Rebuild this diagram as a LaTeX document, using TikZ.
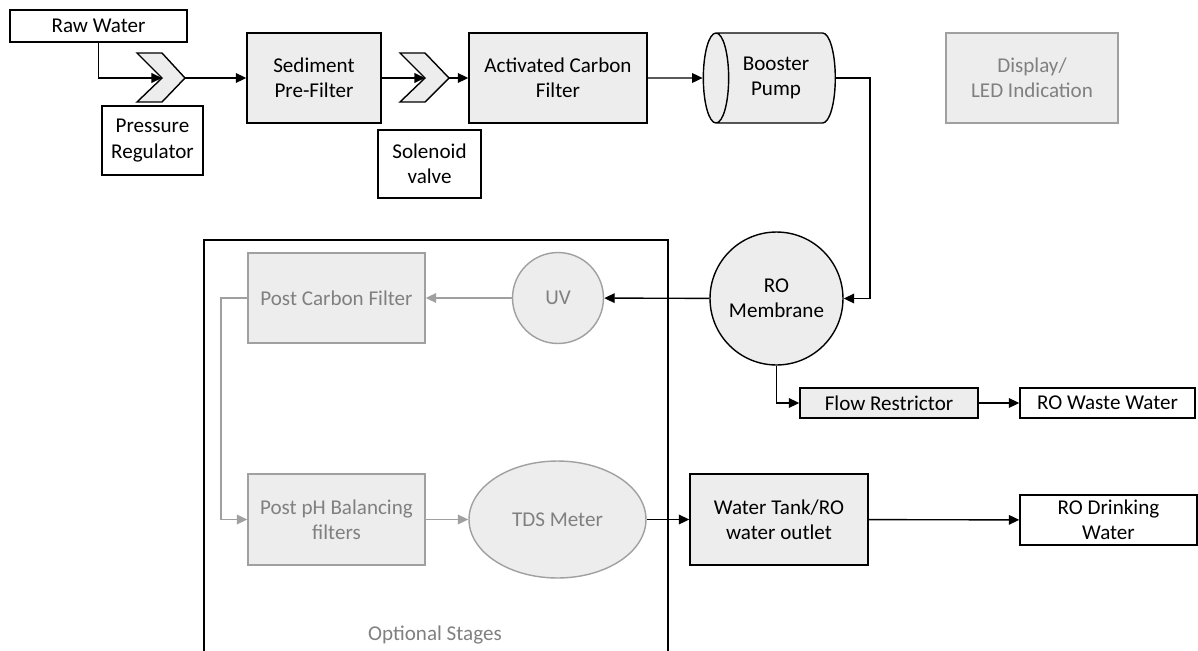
\documentclass[tikz,border=0pt]{standalone}
\usepackage{fontspec}
\setmainfont{Carlito}
\usetikzlibrary{arrows.meta,shapes.geometric}

\definecolor{boxfill}{HTML}{EDEDED}
\definecolor{optline}{HTML}{A0A0A0}
\definecolor{opttext}{HTML}{808080}

\begin{document}
\begin{tikzpicture}[
        x=0.02cm, y=-0.02cm,
        >={Triangle[length=6pt,width=5.5pt]},
        every node/.style={align=center, inner sep=0pt, font=\fontsize{12}{14.4}\selectfont},
        every path/.style={line width=0.8pt},
        plain/.style={draw, rectangle},
        stage/.style={draw, rectangle, fill=boxfill},
        optional/.style={draw=optline, fill=boxfill, text=opttext},
        optflow/.style={->, draw=optline, color=optline},
        valve/.style={draw, fill=boxfill, line join=miter}
    ]
  \useasboundingbox (0,0) rectangle (1198,650);

  % Optional stages frame
  \draw (204,240) rectangle (668,662);
  \node (optlabel) [text=opttext] at (435,635) {Optional Stages};

  % Nodes
  \node (raw) [plain, minimum width=3.54cm, minimum height=0.64cm] at (98.5,26) {Raw Water};
  \node (prv) [plain, minimum width=2.02cm, minimum height=1.38cm] at (152.5,140.5) {Pressure\\Regulator};
  \node (sediment) [stage, minimum width=2.68cm, minimum height=1.8cm] at (314,78) {Sediment\\Pre-Filter};
  \node (solenoid) [plain, minimum width=2.06cm, minimum height=1.36cm] at (429.5,164) {Solenoid\\valve};
  \node (carbon) [stage, minimum width=3.56cm, minimum height=1.8cm] at (558,78) {Activated Carbon\\Filter};
  \node (pump) [draw, fill=boxfill, cylinder, shape border rotate=180, aspect=0.6,
                minimum width=1.8cm, minimum height=2.64cm] at (776,78) {Booster\\Pump};
  \node (display) [optional, minimum width=3.44cm, minimum height=1.8cm] at (1032,78) {Display/\\LED Indication};
  \node (ro) [draw, circle, fill=boxfill, minimum size=2.66cm] at (776.5,298.5) {RO\\Membrane};
  \node (flow) [stage, minimum width=3.56cm, minimum height=0.6cm] at (889,403) {Flow Restrictor};
  \node (waste) [plain, minimum width=3.5cm, minimum height=0.6cm] at (1107.5,403) {RO Waste Water};
  \node (uv) [optional, circle, minimum size=1.82cm] at (558,298) {UV};
  \node (postc) [optional, minimum width=3.54cm, minimum height=1.8cm] at (336.5,298) {Post Carbon Filter};
  \node (postph) [optional, minimum width=3.54cm, minimum height=1.82cm] at (336.5,519.5) {Post pH Balancing\\filters};
  \node (tds) [optional, ellipse, minimum width=3.54cm, minimum height=2.34cm] at (557.5,519.5) {TDS Meter};
  \node (tank) [stage, minimum width=3.56cm, minimum height=1.82cm] at (779,519.5) {Water Tank/RO\\water outlet};
  \node (drink) [plain, minimum width=3.54cm, minimum height=1.0cm] at (1108.5,520) {RO Drinking\\Water};

  % Valve chevrons
  \draw[valve] (137,53) -- (162,53) -- (185,78) -- (162,102) -- (137,102) -- (162,78) -- cycle;
  \coordinate (prvin) at (162,78);
  \coordinate (prvout) at (185,78);
  \draw[valve] (400,53) -- (425,53) -- (449,78) -- (425,102) -- (400,102) -- (425,78) -- cycle;
  \coordinate (svin) at (425,78);
  \coordinate (svout) at (449,78);
  \coordinate (pumpbend) at (870,78);
  \coordinate (postbend) at (221,298);

  % Main flow
  \draw[->] (raw.south) |- (prvin);
  \draw[->] (prvout) -- (sediment);
  \draw[->] (sediment) -- (svin);
  \draw[->] (svout) -- (carbon);
  \draw[->] (carbon) -- (pump.west);
  \draw[->] (pump.east) -- (pumpbend) |- (ro);
  \draw[->] (ro) -- (uv);
  \draw[->] (ro.south) |- (flow);
  \draw[->] (flow) -- (waste);
  \draw[->] (tds) -- (tank);
  \draw[->] (tank) -- (drink);

  % Optional flow
  \draw[optflow] (uv) -- (postc);
  \draw[optflow] (postc.west) -- (postbend) |- (postph);
  \draw[optflow] (postph) -- (tds);
\end{tikzpicture}
\end{document}
